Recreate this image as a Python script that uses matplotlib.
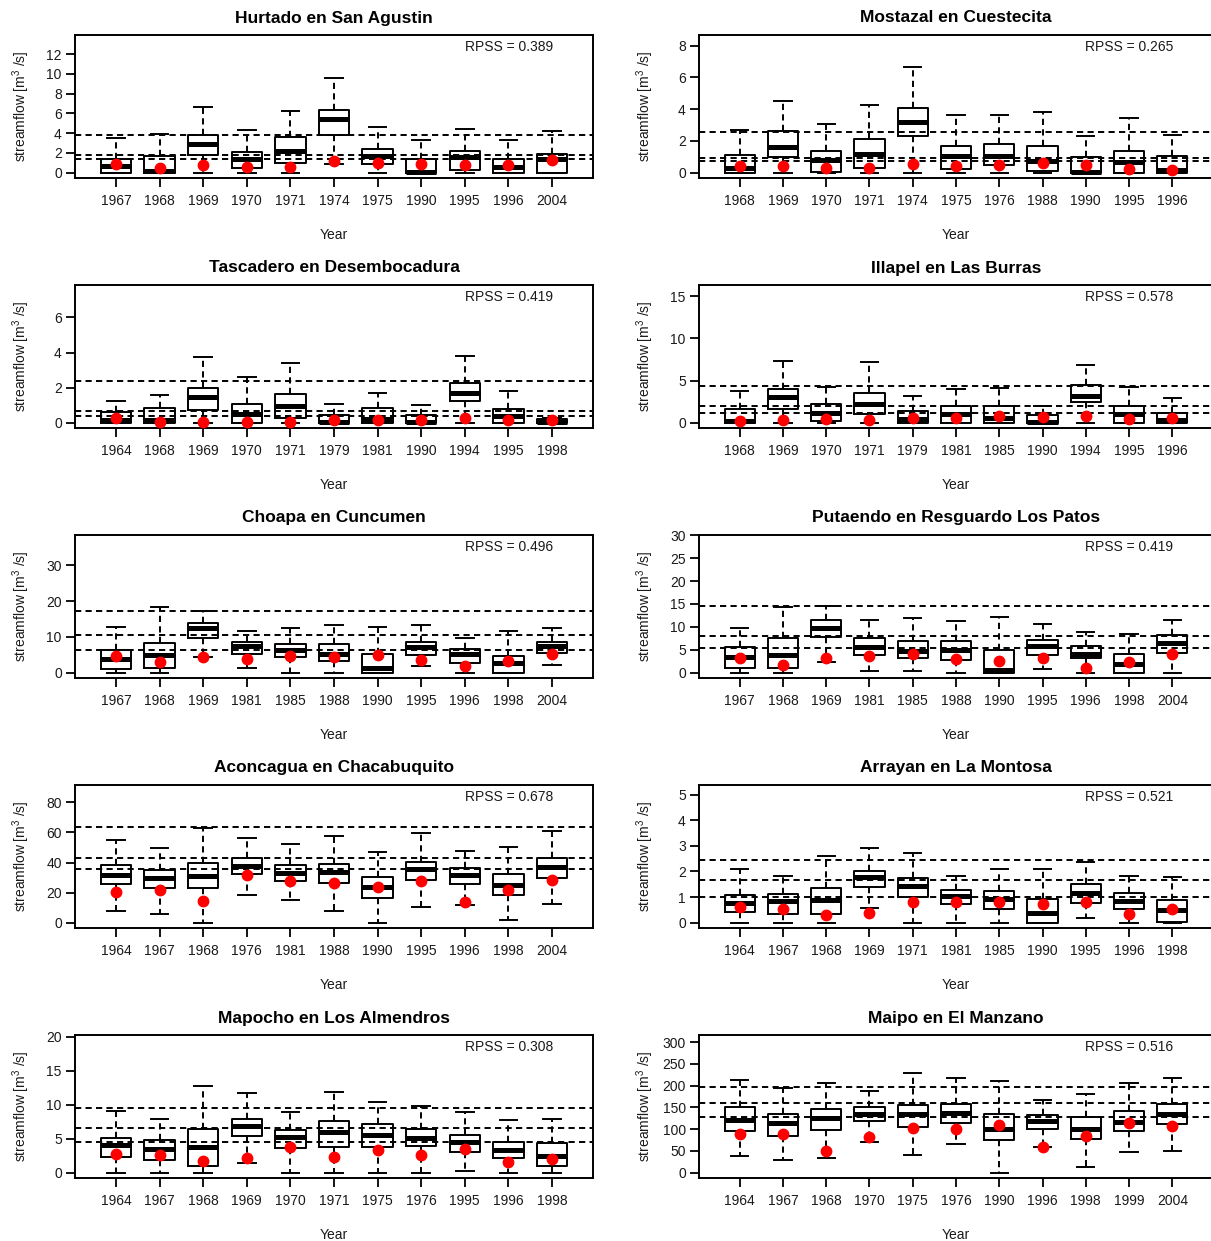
import numpy as np
import matplotlib.pyplot as plt

plt.rcParams['font.family'] = ['Liberation Sans', 'DejaVu Sans']
plt.rcParams['mathtext.fontset'] = 'custom'
plt.rcParams['mathtext.rm'] = 'Liberation Sans'

# station titles and skill scores
titles = ["Hurtado en San Agustin", "Mostazal en Cuestecita",
          "Tascadero en Desembocadura", "Illapel en Las Burras",
          "Choapa en Cuncumen", "Putaendo en Resguardo Los Patos",
          "Aconcagua en Chacabuquito", "Arrayan en La Montosa",
          "Mapocho en Los Almendros", "Maipo en El Manzano"]
rpss = [0.389, 0.265, 0.419, 0.578, 0.496, 0.419, 0.678, 0.521, 0.308, 0.516]

years = [
    [1967, 1968, 1969, 1970, 1971, 1974, 1975, 1990, 1995, 1996, 2004],
    [1968, 1969, 1970, 1971, 1974, 1975, 1976, 1988, 1990, 1995, 1996],
    [1964, 1968, 1969, 1970, 1971, 1979, 1981, 1990, 1994, 1995, 1998],
    [1968, 1969, 1970, 1971, 1979, 1981, 1985, 1990, 1994, 1995, 1996],
    [1967, 1968, 1969, 1981, 1985, 1988, 1990, 1995, 1996, 1998, 2004],
    [1967, 1968, 1969, 1981, 1985, 1988, 1990, 1995, 1996, 1998, 2004],
    [1964, 1967, 1968, 1976, 1981, 1988, 1990, 1995, 1996, 1998, 2004],
    [1964, 1967, 1968, 1969, 1971, 1981, 1985, 1990, 1995, 1996, 1998],
    [1964, 1967, 1968, 1969, 1970, 1971, 1975, 1976, 1995, 1996, 1998],
    [1964, 1967, 1968, 1970, 1975, 1976, 1990, 1996, 1998, 1999, 2004],
]

# ensemble forecast boxes (lower whisker, q1, median, q3, upper whisker)
whis_lo = [
    [0, 0, 0, 0, 0, 0.91, 0, 0, 0, 0, 0],
    [0, 0, 0, 0, 0, 0, 0, 0, 0, 0, 0],
    [0, 0, 0, 0, 0, 0, 0, 0, 0, 0, 0],
    [0, 0, 0, 0, 0, 0, 0, 0, 0, 0, 0],
    [0, 0, 4.47, 1.4, 0, 0, 0, 1.77, 0, 0, 2.24],
    [0, 0, 2.33, 0.44, 0.44, 0, 0, 0.73, 0, 0, 0],
    [7.8, 6.0, 0, 18.4, 15.3, 7.5, 0, 10.2, 12.0, 1.6, 12.4],
    [0, 0, 0, 0.59, 0, 0, 0, 0, 0.18, 0, 0],
    [0, 0, 0, 1.47, 0, 0, 0, 0, 0.2, 0, 0],
    [39.0, 29.8, 34.4, 71.2, 41.3, 66.6, 0, 58.2, 12.2, 47.4, 50.5],
]
q1 = [
    [0, 0, 1.75, 0.47, 0.94, 3.84, 0.88, 0, 0.3, 0, 0],
    [0, 0.98, 0.06, 0.27, 2.32, 0.25, 0.5, 0.1, 0, 0, 0],
    [0, 0, 0.72, 0, 0.27, 0, 0, 0, 1.25, 0, 0],
    [0, 1.66, 0.2, 0.99, 0, 0, 0, 0, 2.41, 0, 0],
    [1.12, 1.4, 9.79, 5.31, 4.38, 3.17, 0, 5.03, 2.8, 0, 5.5],
    [1.02, 1.02, 7.87, 3.93, 3.2, 2.69, 0, 3.79, 3.13, 0, 4.22],
    [25.5, 23.0, 23.0, 32.6, 27.5, 26.6, 16.4, 28.4, 25.5, 18.6, 29.7],
    [0.43, 0.35, 0.33, 1.39, 1.0, 0.74, 0.52, 0, 0.77, 0.55, 0.03],
    [2.31, 1.92, 0.98, 5.36, 3.64, 3.83, 3.83, 3.88, 3.0, 2.11, 1.03],
    [94.9, 84.2, 98.0, 119.4, 104.1, 114.8, 74.2, 100.3, 76.5, 95.7, 111.7],
]
med = [
    [0.67, 0.2, 2.86, 1.35, 2.19, 5.39, 1.72, 0.1, 1.55, 0.61, 1.35],
    [0.31, 1.59, 0.82, 1.15, 3.22, 1.05, 1.03, 0.75, 0.04, 0.69, 0.19],
    [0.13, 0.13, 1.46, 0.47, 0.95, 0.04, 0.23, 0.04, 1.69, 0.38, 0.05],
    [0.2, 3.0, 1.14, 2.21, 0.47, 0.99, 0.51, 0.08, 3.12, 1.03, 0.32],
    [3.91, 4.94, 12.49, 7.46, 6.43, 5.31, 1.2, 7.08, 5.13, 2.8, 7.46],
    [3.42, 3.93, 9.69, 5.61, 4.66, 5.03, 0.5, 5.75, 4.15, 1.82, 6.55],
    [31.5, 29.7, 31.2, 37.7, 33.2, 33.5, 23.7, 35.7, 31.7, 25.3, 37.2],
    [0.77, 0.85, 0.87, 1.8, 1.42, 1.04, 0.92, 0.38, 1.17, 0.85, 0.48],
    [4.03, 3.49, 3.78, 6.83, 5.21, 6.04, 5.6, 5.16, 4.52, 3.39, 2.41],
    [120.2, 114.8, 125.5, 134.7, 135.5, 137.0, 99.5, 119.4, 100.3, 117.1, 135.5],
]
q3 = [
    [1.38, 1.72, 3.77, 2.06, 3.57, 6.34, 2.43, 1.38, 2.22, 1.38, 1.85],
    [1.13, 2.6, 1.34, 2.09, 4.06, 1.7, 1.8, 1.7, 0.98, 1.38, 1.05],
    [0.61, 0.84, 1.97, 1.06, 1.63, 0.46, 0.84, 0.46, 2.26, 0.8, 0.2],
    [1.58, 4.03, 2.17, 3.55, 1.38, 2.01, 1.93, 0.87, 4.42, 2.01, 1.14],
    [6.34, 8.29, 13.79, 8.48, 7.92, 8.01, 5.13, 8.57, 6.52, 4.75, 8.67],
    [5.54, 7.57, 11.43, 7.57, 6.85, 6.92, 4.95, 7.14, 5.83, 4.08, 8.16],
    [38.3, 35.2, 39.4, 43.0, 38.1, 38.8, 30.1, 40.6, 36.3, 32.1, 43.0],
    [1.08, 1.12, 1.35, 2.03, 1.76, 1.26, 1.22, 0.92, 1.52, 1.15, 0.87],
    [5.06, 4.82, 6.44, 7.91, 6.29, 7.67, 7.13, 6.39, 5.55, 4.52, 4.37],
    [150.8, 133.9, 146.2, 150.0, 155.4, 156.9, 134.7, 133.2, 127.0, 140.8, 156.9],
]
whis_hi = [
    [3.54, 3.88, 6.64, 4.28, 6.2, 9.6, 4.58, 3.34, 4.42, 3.27, 4.18],
    [2.68, 4.54, 3.06, 4.29, 6.64, 3.66, 3.6, 3.81, 2.28, 3.43, 2.35],
    [1.25, 1.59, 3.74, 2.58, 3.4, 1.08, 1.71, 1.01, 3.78, 1.78, 0.25],
    [3.79, 7.3, 4.18, 7.15, 3.16, 4.03, 4.1, 2.01, 6.79, 4.18, 2.96],
    [12.67, 18.36, 17.24, 11.65, 12.49, 13.33, 12.67, 13.42, 9.6, 11.74, 12.4],
    [9.69, 14.42, 14.64, 11.43, 11.94, 11.29, 12.09, 10.63, 8.81, 8.52, 11.43],
    [54.7, 49.4, 62.9, 56.3, 52.1, 57.4, 47.2, 59.4, 47.6, 50.5, 60.9],
    [2.08, 1.84, 2.62, 2.9, 2.73, 1.81, 2.11, 2.11, 2.36, 1.84, 1.78],
    [9.04, 7.96, 12.73, 11.74, 8.89, 11.84, 10.37, 9.78, 8.94, 7.71, 7.86],
    [212.7, 195.1, 205.1, 187.5, 228.8, 217.3, 210.5, 167.6, 180.6, 205.1, 216.6],
]

# observed streamflow (red dots)
observed = [
    [0.91, 0.47, 0.74, 0.54, 0.57, 1.18, 0.94, 0.91, 0.74, 0.78, 1.25],
    [0.44, 0.4, 0.29, 0.29, 0.57, 0.4, 0.48, 0.59, 0.48, 0.23, 0.19],
    [0.27, 0.06, 0.06, 0.06, 0.06, 0.17, 0.13, 0.13, 0.28, 0.17, 0.13],
    [0.2, 0.36, 0.39, 0.28, 0.59, 0.55, 0.79, 0.63, 0.79, 0.43, 0.59],
    [4.57, 3.08, 4.47, 3.73, 4.57, 4.29, 5.03, 3.45, 1.96, 3.17, 5.31],
    [3.13, 1.68, 3.13, 3.71, 4.08, 2.91, 2.55, 3.13, 1.09, 2.33, 4.0],
    [20.2, 21.7, 14.2, 31.9, 27.7, 26.6, 23.7, 27.9, 13.7, 21.7, 28.1],
    [0.61, 0.53, 0.31, 0.36, 0.82, 0.81, 0.81, 0.74, 0.81, 0.33, 0.52],
    [2.7, 2.6, 1.67, 2.11, 3.73, 2.31, 3.29, 2.6, 3.54, 1.62, 1.97],
    [89.5, 88.8, 50.5, 81.1, 103.3, 100.3, 109.4, 59.7, 83.4, 114.8, 107.9],
]

# climatological reference lines (dashed)
ref_lines = [
    [3.77, 1.75, 1.38],
    [2.53, 0.94, 0.75],
    [2.37, 0.65, 0.38],
    [4.34, 2.01, 1.1],
    [17.24, 10.62, 6.34],
    [14.57, 7.94, 5.32],
    [63.4, 43.0, 35.9],
    [2.46, 1.65, 0.99],
    [9.53, 6.63, 4.52],
    [197.4, 159.2, 128.6],
]

y_top = [13.4, 8.33, 7.55, 15.7, 37.0, 28.9, 88.0, 5.17, 19.5, 304.0]
y_tick_max = [12, 8, 6, 15, 30, 30, 80, 5, 20, 300]
y_tick_step = [2, 2, 2, 5, 10, 5, 20, 1, 5, 50]

W, H = 1211, 1241
fig = plt.figure(figsize=(W / 100, H / 100), dpi=100)

txt = '#1a1a1a'
dash = (0, (3.2, 2.2))

for k in range(10):
    row, col = divmod(k, 2)
    x0 = 75 if col == 0 else 699
    w = 518 if col == 0 else 514
    top = 35 + 250 * row
    ax = fig.add_axes([x0 / W, 1 - (top + 143) / H, w / W, 143 / H])

    n = len(years[k])
    pos = np.arange(1, n + 1)

    for v in ref_lines[k]:
        ax.axhline(v, color='k', lw=1.4, ls=dash, zorder=1)

    stats = []
    for i in range(n):
        stats.append(dict(med=med[k][i], q1=q1[k][i], q3=q3[k][i],
                          whislo=whis_lo[k][i], whishi=whis_hi[k][i]))
    ax.bxp(stats, positions=pos, widths=0.7, capwidths=0.4, showfliers=False,
           boxprops=dict(color='k', lw=1.4),
           whiskerprops=dict(color='k', lw=1.4, ls=dash),
           capprops=dict(color='k', lw=1.4),
           medianprops=dict(color='k', lw=3.6, solid_capstyle='butt'))

    ax.plot(pos, observed[k], 'o', color='#ff0000', mec='#ff0000', ms=7.5,
            zorder=5)

    Y = y_top[k]
    ax.set_xlim(0.06, n + 0.94)
    ax.set_ylim(-0.04 * Y, 1.04 * Y)
    ax.set_xticks(pos)
    ax.set_xticklabels([str(y) for y in years[k]])
    yt = np.arange(0, y_tick_max[k] + 1e-9, y_tick_step[k])
    ax.set_yticks(yt)
    ax.set_yticklabels([str(int(v)) for v in yt])

    ax.tick_params(axis='x', direction='out', length=6.5, width=1.3,
                   labelsize=10, pad=5, colors='k', labelcolor=txt)
    ax.tick_params(axis='y', direction='out', length=6.5, width=1.3,
                   labelsize=10, pad=3, colors='k', labelcolor=txt)
    for s in ax.spines.values():
        s.set_linewidth(1.4)

    ax.text(0.5, 1 + 17 / 143, titles[k], transform=ax.transAxes,
            ha='center', va='center', fontsize=12.5, fontweight='bold',
            color='k')
    ax.text(0.923, 0.915, "RPSS = %.3f" % rpss[k], transform=ax.transAxes,
            ha='right', va='center', fontsize=10, color=txt)
    ax.text(-54 / w, 0.5, 'streamflow [m$^{\\mathrm{3}}$ /s]',
            transform=ax.transAxes, rotation=90, ha='center', va='center',
            fontsize=10, color=txt)
    ax.text(0.5, -57 / 143, 'Year', transform=ax.transAxes,
            ha='center', va='center', fontsize=10, color=txt)

fig.savefig('out.png', dpi=100)
